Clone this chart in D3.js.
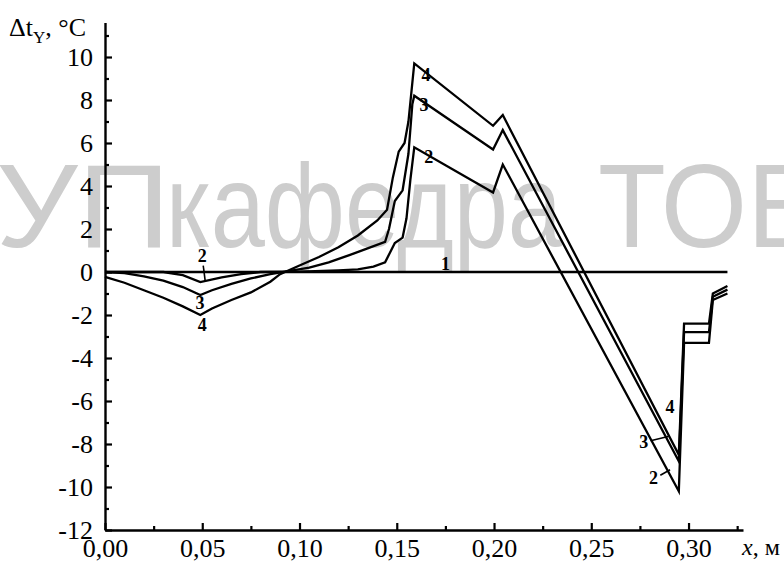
<!doctype html>
<html lang="ru">
<head>
  <meta charset="utf-8">
  <title>Δt_Y по длине</title>
  <script type="text/javascript" src="https://cdnjs.cloudflare.com/ajax/libs/d3/7.8.5/d3.min.js"></script>
  <style>
    body { margin: 0; background: #fff; }
    svg text { font-family: "Liberation Serif", "Times New Roman", serif; }
  </style>
</head>
<body>
<svg width="784" height="564" id="svg"></svg>

<script type="text/javascript">

	// кривые: [x, м ; Δt, °C]
	var curve1 = [[0, 0], [0.32, 0]];

	var curve2 = [[0, 0], [0.03, 0], [0.04, -0.15], [0.049, -0.47], [0.06, -0.25], [0.07, -0.1], [0.08, 0],
		[0.1, 0.02], [0.12, 0.08], [0.13, 0.12], [0.138, 0.25], [0.144, 0.45], [0.149, 1.35], [0.153, 1.6],
		[0.155, 2.5], [0.157, 4.3], [0.159, 5.8], [0.1995, 3.7], [0.2045, 5.0], [0.295, -10.2],
		[0.2977, -3.3], [0.3105, -3.3], [0.3125, -1.3], [0.32, -1.0]];

	var curve3 = [[0, 0], [0.01, -0.05], [0.02, -0.2], [0.03, -0.4], [0.04, -0.7], [0.049, -1.07], [0.055, -0.85],
		[0.065, -0.55], [0.075, -0.3], [0.085, -0.1], [0.095, 0.05], [0.105, 0.2], [0.115, 0.45], [0.126, 0.8],
		[0.135, 1.1], [0.144, 1.4], [0.146, 2.0], [0.149, 3.3], [0.153, 3.8], [0.156, 5.5], [0.158, 7.8],
		[0.159, 8.2], [0.1995, 5.7], [0.2045, 6.6], [0.295, -8.8], [0.2977, -2.8], [0.3105, -2.8],
		[0.3125, -1.15], [0.32, -0.82]];

	var curve4 = [[0, -0.23], [0.01, -0.5], [0.02, -0.85], [0.03, -1.2], [0.04, -1.6], [0.049, -2.0], [0.055, -1.7],
		[0.065, -1.3], [0.075, -0.95], [0.085, -0.45], [0.09, -0.1], [0.1, 0.3], [0.11, 0.7], [0.12, 1.15],
		[0.13, 1.7], [0.14, 2.4], [0.145, 2.9], [0.148, 4.4], [0.151, 5.6], [0.154, 6.0], [0.156, 7.0],
		[0.159, 9.7], [0.1995, 6.8], [0.2045, 7.3], [0.295, -8.5], [0.2977, -2.4], [0.3105, -2.4],
		[0.3125, -1.0], [0.32, -0.65]];

	var xMajor = [0, 0.05, 0.10, 0.15, 0.20, 0.25, 0.30];
	var xMinor = [0.025, 0.075, 0.125, 0.175, 0.225, 0.275, 0.325];
	var yMajor = [-12, -10, -8, -6, -4, -2, 0, 2, 4, 6, 8, 10];
	var yMinor = [-11, -9, -7, -5, -3, -1, 1, 3, 5, 7, 9, 11];

	// номера кривых: [текст, x, y]
	var curveLabels = [['2', 0.05, 0.75], ['3', 0.0488, -1.45], ['4', 0.05, -2.45],
		['4', 0.165, 9.2], ['3', 0.164, 7.8], ['2', 0.1665, 5.35], ['1', 0.175, 0.4],
		['4', 0.2905, -6.25], ['3', 0.277, -7.9], ['2', 0.282, -9.55]];
	// выноски от номеров к кривым
	var leaders = [[[0.0505, 0.3], [0.0515, -0.4]],
		[[0.2805, -7.85], [0.2895, -7.65]],
		[[0.2855, -9.45], [0.2905, -9.2]]];

	var svg = d3.select('#svg');

	var x = d3.scaleLinear().domain([0, 0.328]).range([105, 743]);
	var y = d3.scaleLinear().domain([-12, 11.6]).range([530, 22.6]);

	// водяной знак
	var wmFont = '"Liberation Sans", Arial, sans-serif';
	var wm = svg.append('g')
		.attr('fill', '#cdcdcd')
		.style('font-size', '118px');
	wm.append('text').attr('x', -4).attr('y', 247).attr('textLength', 174)
		.attr('lengthAdjust', 'spacingAndGlyphs').style('font-family', wmFont).text('УП');
	wm.append('text').attr('x', 166).attr('y', 247).attr('textLength', 396)
		.attr('lengthAdjust', 'spacingAndGlyphs').style('font-family', wmFont).text('кафедра');
	wm.append('text').attr('x', 598).attr('y', 247).attr('textLength', 222)
		.attr('lengthAdjust', 'spacingAndGlyphs').style('font-family', wmFont).text('ТОБ');

	// оси
	var fmtX = function(d) { return d3.format('.2f')(d).replace('.', ','); };
	var fmtY = function(d) { return String(d); };

	svg.append('g')
		.attr('transform', 'translate(0,' + y(-12) + ')')
		.call(d3.axisBottom(x).tickValues(xMajor).tickSizeInner(-7).tickSizeOuter(0).tickPadding(9).tickFormat(fmtX));
	svg.append('g')
		.attr('transform', 'translate(0,' + y(-12) + ')')
		.call(d3.axisBottom(x).tickValues(xMinor).tickSizeInner(-4).tickSizeOuter(0).tickFormat(''))
		.select('.domain').remove();

	svg.append('g')
		.attr('transform', 'translate(' + x(0) + ',0)')
		.call(d3.axisLeft(y).tickValues(yMajor).tickSizeInner(-7).tickSizeOuter(0).tickPadding(12).tickFormat(fmtY));
	svg.append('g')
		.attr('transform', 'translate(' + x(0) + ',0)')
		.call(d3.axisLeft(y).tickValues(yMinor).tickSizeInner(-4).tickSizeOuter(0).tickFormat(''))
		.select('.domain').remove();

	svg.selectAll('.domain').attr('stroke', '#000').attr('stroke-width', 2.4);
	svg.selectAll('.tick line').attr('stroke', '#000').attr('stroke-width', 2.2);
	svg.selectAll('.tick text')
		.attr('fill', '#000')
		.style('font-family', '"Liberation Serif", serif')
		.style('font-size', '26px');

	// подписи осей
	var yt = svg.append('text').attr('x', 9).attr('y', 36).style('font-size', '26px').attr('fill', '#000');
	yt.append('tspan').text('Δt');
	yt.append('tspan').attr('dy', 7).style('font-size', '17px').text('Y');
	yt.append('tspan').attr('dy', -7).text(', °C');

	var xt = svg.append('text').attr('x', 742).attr('y', 555).style('font-size', '24px').attr('fill', '#000');
	xt.append('tspan').style('font-style', 'italic').text('x');
	xt.append('tspan').text(', м');

	// кривые
	var line = d3.line()
		.x(function(d) { return x(d[0]); })
		.y(function(d) { return y(d[1]); });

	svg.selectAll('path.curve')
		.data([curve1, curve2, curve3, curve4])
		.enter()
		.append('path')
		.attr('class', 'curve')
		.attr('d', line)
		.attr('fill', 'none')
		.attr('stroke', '#000')
		.attr('stroke-width', 2.3)
		.attr('stroke-linejoin', 'miter');

	svg.selectAll('line.leader')
		.data(leaders)
		.enter()
		.append('line')
		.attr('class', 'leader')
		.attr('x1', function(d) { return x(d[0][0]); })
		.attr('y1', function(d) { return y(d[0][1]); })
		.attr('x2', function(d) { return x(d[1][0]); })
		.attr('y2', function(d) { return y(d[1][1]); })
		.attr('stroke', '#000')
		.attr('stroke-width', 1.6);

	svg.selectAll('text.num')
		.data(curveLabels)
		.enter()
		.append('text')
		.attr('class', 'num')
		.attr('x', function(d) { return x(d[1]); })
		.attr('y', function(d) { return y(d[2]); })
		.attr('text-anchor', 'middle')
		.attr('dy', '0.35em')
		.style('font-size', '18px')
		.style('font-weight', 'bold')
		.attr('fill', '#000')
		.text(function(d) { return d[0]; });

</script>
</html>
